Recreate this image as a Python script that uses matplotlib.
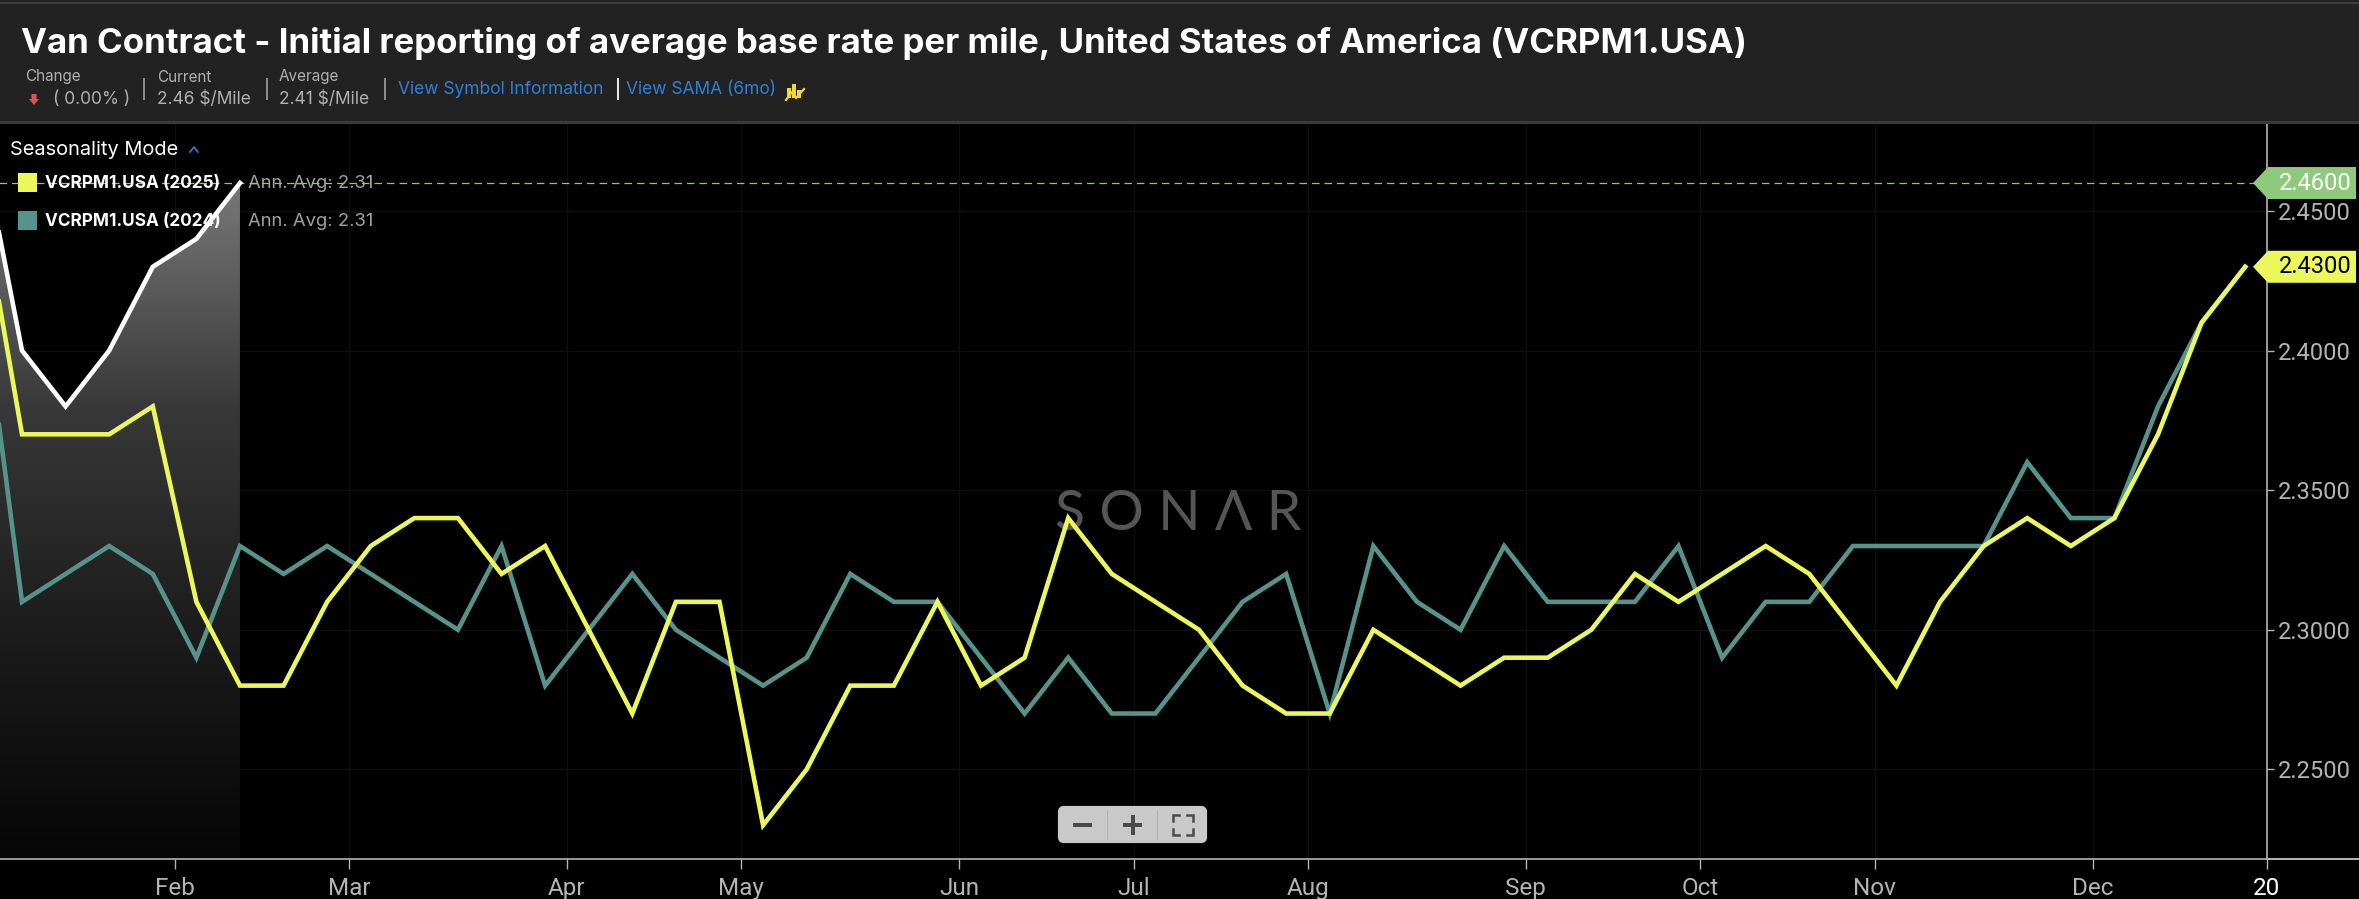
import numpy as np
import matplotlib
matplotlib.use('Agg')
import matplotlib.pyplot as plt
from matplotlib.colors import LinearSegmentedColormap
from matplotlib.patches import FancyBboxPatch, Polygon, Rectangle
from matplotlib.transforms import Affine2D

W, H = 2359, 899

# Data (one point per week, week -1 sits just off the left edge)
weeks_2025 = list(range(-1, 52))
values_2025 = [2.46, 2.37, 2.37, 2.37, 2.38, 2.31, 2.28, 2.28, 2.31, 2.33, 2.34, 2.34, 2.32, 2.33,
               2.30, 2.27, 2.31, 2.31, 2.23, 2.25, 2.28, 2.28, 2.31, 2.28, 2.29, 2.34, 2.32, 2.31,
               2.30, 2.28, 2.27, 2.27, 2.30, 2.29, 2.28, 2.29, 2.29, 2.30, 2.32, 2.31, 2.32, 2.33,
               2.32, 2.30, 2.28, 2.31, 2.33, 2.34, 2.33, 2.34, 2.37, 2.41, 2.43]
values_2024 = [2.43, 2.31, 2.32, 2.33, 2.32, 2.29, 2.33, 2.32, 2.33, 2.32, 2.31, 2.30, 2.33, 2.28,
               2.30, 2.32, 2.30, 2.29, 2.28, 2.29, 2.32, 2.31, 2.31, 2.29, 2.27, 2.29, 2.27, 2.27,
               2.29, 2.31, 2.32, 2.27, 2.33, 2.31, 2.30, 2.33, 2.31, 2.31, 2.31, 2.33, 2.29, 2.31,
               2.31, 2.33, 2.33, 2.33, 2.33, 2.36, 2.34, 2.34, 2.38, 2.41, 2.43]
weeks_current = [-1, 0, 1, 2, 3, 4, 5]
values_current = [2.48, 2.40, 2.38, 2.40, 2.43, 2.44, 2.46]

month_ticks = [3.5, 7.5, 12.5, 16.5, 21.5, 25.5, 29.5, 34.5, 38.5, 42.5, 47.5, 51.5]
month_labels = ['Feb', 'Mar', 'Apr', 'May', 'Jun', 'Jul', 'Aug', 'Sep', 'Oct', 'Nov', 'Dec', '20']
value_ticks = [2.25, 2.30, 2.35, 2.40, 2.45]
current_value = 2.46
last_value = 2.43

YELLOW = '#ecf75c'
TEAL = '#56938a'
GREEN = '#8fc97c'
BLUE = '#2f80d8'
GRAY = '#b4b4b4'

plt.rcParams['font.family'] = ['Inter', 'Roboto', 'DejaVu Sans']

fig = plt.figure(figsize=(W / 100, H / 100), dpi=100, facecolor='black')
ax = fig.add_axes([0, (H - 859) / H, 2267 / W, (859 - 123) / H], facecolor='black')
# pixel coordinates, top left origin, for the page furniture
px = Affine2D().scale(1, -1).translate(0, H)


def label(x, y, s, size, color='white', ha='left', weight='normal', family=None, zorder=1):
    return ax.text(x, y, s, transform=px, fontsize=size, color=color, ha=ha, va='center',
                   fontweight=weight, family=family, clip_on=False, zorder=zorder)


def box(x, y, w, h, color, zorder=1):
    ax.add_patch(Rectangle((x, y), w, h, transform=px, fc=color, ec='none', clip_on=False, zorder=zorder))


# Lines and area
poly = ax.fill_between(weeks_current, values_current, 2.2, color='none')
area_path = poly.get_paths()[0]
cmap = LinearSegmentedColormap.from_list('fade', ['#060606', '#1c1c1c', '#383838', '#787878'])
im = ax.imshow(np.linspace(1, 0, 256).reshape(-1, 1), extent=(-1, 5, 2.2179, 2.46), aspect='auto',
               cmap=cmap, zorder=0.8)
im.set_clip_path(area_path, transform=ax.transData)

ax.plot(weeks_2025, values_2024, color=TEAL, lw=3.3, solid_joinstyle='miter', zorder=3)
ax.plot(weeks_2025, values_2025, color=YELLOW, lw=3.3, solid_joinstyle='miter', zorder=4)
ax.plot(weeks_current, values_current, color='white', lw=3.3, solid_joinstyle='miter', zorder=5)
ax.plot([-0.6, 51.25], [current_value, current_value], color=GREEN, lw=0.9, ls=(0, (6, 4)), zorder=2.5)

ax.set_xlim(-0.505, 51.5)
ax.set_ylim(2.2179, 2.4815)

ax.set_xticks(month_ticks)
ax.set_xticklabels(month_labels)
ax.set_yticks(value_ticks)
ax.set_yticklabels([f'{v:.4f}' for v in value_ticks])
ax.yaxis.tick_right()
ax.tick_params(axis='x', length=7, width=1, color=GRAY, labelcolor=GRAY, labelsize=17.5, pad=6)
ax.tick_params(axis='y', length=5, width=1, color=GRAY, labelcolor=GRAY, labelsize=17, pad=3)
for t in ax.get_xticklabels() + ax.get_yticklabels():
    t.set_family(['Roboto', 'DejaVu Sans'])
ax.get_xticklabels()[-1].set_color('white')
ax.grid(True, color='#0e0e0e', lw=1)
ax.set_axisbelow(True)
for side in ['left', 'top']:
    ax.spines[side].set_visible(False)
for side in ['right', 'bottom']:
    ax.spines[side].set_color(GRAY)
    ax.spines[side].set_linewidth(1.2)
box(2267, 858.4, W - 2267, 1.3, GRAY)

# Header band
box(0, 0, W, 123, '#222222', zorder=6)
box(0, 2, W, 2, '#3d3d3d', zorder=6)
box(0, 121, W, 3, '#3a3a3a', zorder=6)
label(21, 43, 'Van Contract - Initial reporting of average base rate per mile, United States of America (VCRPM1.USA)',
      25.1, weight='bold', zorder=7)
label(25, 77, 'Change', 11, '#b0b0b0', zorder=7)
label(53, 100, '( 0.00% )', 12.5, '#b0b0b0', zorder=7)
label(157, 77, 'Current', 11, '#b0b0b0', zorder=7)
label(157, 100, '2.46 $/Mile', 12.5, '#b0b0b0', zorder=7)
label(279, 77, 'Average', 11, '#b0b0b0', zorder=7)
label(279, 100, '2.41 $/Mile', 12.5, '#b0b0b0', zorder=7)
label(398, 90, 'View Symbol Information', 12.5, BLUE, zorder=7)
label(626, 90, 'View SAMA (6mo)', 12.5, BLUE, zorder=7)
for sep_x, sep_color in [(143, '#8a8a8a'), (266, '#8a8a8a'), (384, '#8a8a8a'), (617, '#e6e6e6')]:
    box(sep_x, 78, 1.6, 22, sep_color, zorder=7)
# down arrow next to the change figure
ax.add_patch(Polygon([(31.5, 94), (36.5, 94), (36.5, 99), (39, 99), (34, 105), (29, 99), (31.5, 99)],
                     transform=px, fc='#e05252', ec='none', clip_on=False, zorder=7))
# SAMA icon
for bar_x, bar_top in [(787, 88), (792, 84), (797, 90)]:
    box(bar_x, bar_top, 3.5, 98 - bar_top, '#f2d92e', zorder=7)
ax.plot([786, 792, 796, 804], [100, 92, 98, 89], transform=px, color='#f2d92e', lw=1.6, clip_on=False, zorder=7)

# Seasonality legend, swatches and names above the dashed line, white line above the names
label(10, 150, 'Seasonality Mode', 14.4)
ax.plot([190, 194, 198], [152, 147, 152], transform=px, color=BLUE, lw=1.2, clip_on=False, zorder=1)
box(18, 173, 19, 19, YELLOW, zorder=2.6)
box(18, 211, 19, 19, TEAL, zorder=2.6)
label(45, 183, 'VCRPM1.USA (2025)', 12.4, weight='bold', zorder=2.6)
label(45, 221, 'VCRPM1.USA (2024)', 12.4, weight='bold', zorder=2.6)
label(248, 183, 'Ann. Avg: 2.31', 13.3, '#a0a0a0')
label(248, 221, 'Ann. Avg: 2.31', 13.3, '#a0a0a0')

# Watermark
label(1178, 515, 'S O N Λ R', 40, '#555555', ha='center', family=['Lato', 'DejaVu Sans'], zorder=2)

# Value tags on the right hand axis
for value, fill, text_color in [(current_value, GREEN, 'white'), (last_value, YELLOW, 'black')]:
    yp = H - ax.transData.transform((0, value))[1]
    ax.add_patch(Polygon([(2253, yp), (2268, yp - 16), (2356, yp - 16), (2356, yp + 16), (2268, yp + 16)],
                         transform=px, fc=fill, ec='none', clip_on=False, zorder=8))
    label(2352, yp, f'{value:.4f}', 17, text_color, ha='right', family=['Roboto', 'DejaVu Sans'], zorder=9)

# Zoom control
ax.add_patch(FancyBboxPatch((1060, 808), 145, 33, boxstyle='round,pad=0,rounding_size=4', transform=px,
                            fc='#c9c9c9', ec='#c9c9c9', lw=3, clip_on=False, zorder=6))
for div_x in [1107, 1157]:
    box(div_x, 810, 1.2, 30, '#b0b0b0', zorder=7)
box(1073, 823, 19, 4, '#4a4a4a', zorder=7)
box(1123, 823, 19, 4, '#4a4a4a', zorder=7)
box(1130.5, 815, 4, 20, '#4a4a4a', zorder=7)
for cx, cy, dx, dy in [(1173, 815, 1, 1), (1193, 815, -1, 1), (1173, 835, 1, -1), (1193, 835, -1, -1)]:
    ax.plot([cx + 6 * dx, cx, cx], [cy, cy, cy + 6 * dy], transform=px, color='#4a4a4a', lw=1.8,
            clip_on=False, zorder=7, solid_joinstyle='miter')

fig.savefig('out.png', dpi=100, facecolor='black')
